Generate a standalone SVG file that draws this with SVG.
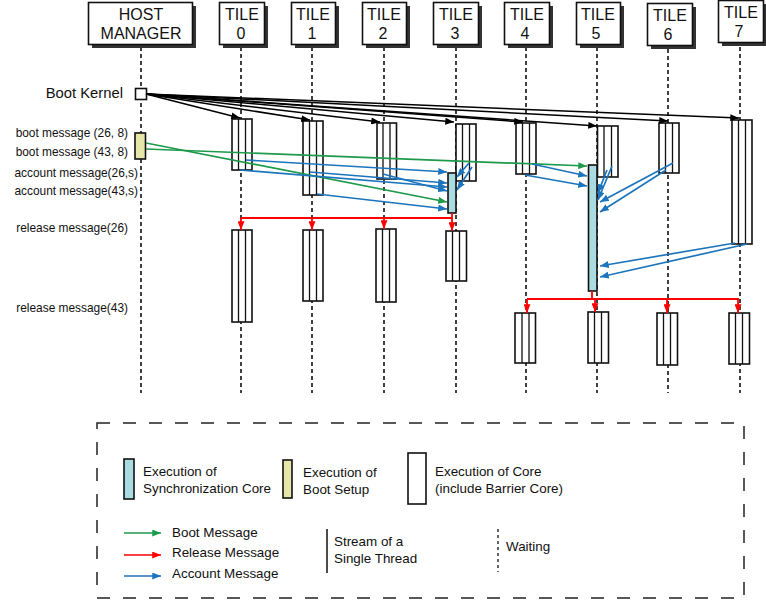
<svg xmlns="http://www.w3.org/2000/svg" width="766" height="600" viewBox="0 0 766 600">
<style>
text{font-family:"Liberation Sans",Arial,sans-serif;fill:#111}
.hd{font-size:16px;text-anchor:middle}
.lbl{font-size:11.9px;text-anchor:end}
.lg{font-size:13.4px}
.hb{fill:#fff;stroke:#111;stroke-width:1.6}
.sh{fill:#333}
.life{stroke:#111;stroke-width:1.6;stroke-dasharray:4 3;fill:none}
.core{fill:#fff;stroke:#111;stroke-width:1.6}
.in{stroke:#111;stroke-width:1.3}
.sync{fill:#a9dbe1;stroke:#111;stroke-width:1.6}
.boot{fill:#e6e6a8;stroke:#111;stroke-width:1.6}
.blk{stroke:#000;stroke-width:1.5;fill:none;marker-end:url(#mk)}
.grn{stroke:#1d9a4b;stroke-width:1.7;fill:none;marker-end:url(#mg)}
.blu{stroke:#1c75bc;stroke-width:1.7;fill:none;marker-end:url(#mb)}
.red{stroke:#f00;stroke-width:1.8;fill:none}
.reda{stroke:#f00;stroke-width:1.8;fill:none;marker-end:url(#mr)}
</style>
<defs>
<marker id="mk" viewBox="0 0 10 8" refX="10" refY="4" markerWidth="9" markerHeight="7" markerUnits="userSpaceOnUse" orient="auto"><path d="M0,0L10,4L0,8z" fill="#000"/></marker>
<marker id="mg" viewBox="0 0 10 8" refX="10" refY="4" markerWidth="9" markerHeight="7" markerUnits="userSpaceOnUse" orient="auto"><path d="M0,0L10,4L0,8z" fill="#1d9a4b"/></marker>
<marker id="mb" viewBox="0 0 10 8" refX="10" refY="4" markerWidth="9" markerHeight="7" markerUnits="userSpaceOnUse" orient="auto"><path d="M0,0L10,4L0,8z" fill="#1c75bc"/></marker>
<marker id="mr" viewBox="0 0 10 8" refX="10" refY="4" markerWidth="9" markerHeight="7" markerUnits="userSpaceOnUse" orient="auto"><path d="M0,0L10,4L0,8z" fill="#f00"/></marker>
</defs>
<rect width="766" height="600" fill="#fff"/>

<g id="lifelines">
<line class="life" x1="141" y1="47" x2="141" y2="393"/>
<line class="life" x1="241" y1="47" x2="241" y2="393"/>
<line class="life" x1="312" y1="47" x2="312" y2="393"/>
<line class="life" x1="384" y1="47" x2="384" y2="393"/>
<line class="life" x1="456" y1="47" x2="456" y2="393"/>
<line class="life" x1="526" y1="47" x2="526" y2="393"/>
<line class="life" x1="597" y1="47" x2="597" y2="393"/>
<line class="life" x1="668" y1="49" x2="668" y2="393"/>
<line class="life" x1="740" y1="47" x2="740" y2="393"/>
</g>

<g id="host-manager">
<rect class="sh" x="92" y="6" width="104" height="42"/>
<rect class="hb" x="88.5" y="2.5" width="104" height="42"/>
<text class="hd" x="141" y="20">HOST</text>
<text class="hd" x="141" y="38.5">MANAGER</text>
</g>
<g id="tile0">
<rect class="sh" x="223" y="6" width="45" height="42"/>
<rect class="hb" x="219.5" y="2.5" width="45" height="42"/>
<text class="hd" x="242" y="20">TILE</text><text class="hd" x="241" y="38.5">0</text>
</g>
<g id="tile1">
<rect class="sh" x="295" y="6" width="44" height="42"/>
<rect class="hb" x="291.5" y="2.5" width="44" height="42"/>
<text class="hd" x="313" y="20">TILE</text><text class="hd" x="312" y="38.5">1</text>
</g>
<g id="tile2">
<rect class="sh" x="366" y="6" width="44" height="42"/>
<rect class="hb" x="362.5" y="2.5" width="44" height="42"/>
<text class="hd" x="384" y="20">TILE</text><text class="hd" x="383" y="38.5">2</text>
</g>
<g id="tile3">
<rect class="sh" x="437" y="6" width="45" height="42"/>
<rect class="hb" x="433.5" y="2.5" width="45" height="42"/>
<text class="hd" x="456" y="20">TILE</text><text class="hd" x="455" y="38.5">3</text>
</g>
<g id="tile4">
<rect class="sh" x="508" y="6" width="45" height="42"/>
<rect class="hb" x="504.5" y="2.5" width="45" height="42"/>
<text class="hd" x="527" y="20">TILE</text><text class="hd" x="525" y="38.5">4</text>
</g>
<g id="tile5">
<rect class="sh" x="580" y="6" width="44" height="42"/>
<rect class="hb" x="576.5" y="2.5" width="44" height="42"/>
<text class="hd" x="598" y="20">TILE</text><text class="hd" x="596" y="38.5">5</text>
</g>
<g id="tile6">
<rect class="sh" x="651" y="7" width="45" height="42"/>
<rect class="hb" x="647.5" y="3.5" width="45" height="42"/>
<text class="hd" x="670" y="21">TILE</text><text class="hd" x="668" y="39.5">6</text>
</g>
<g id="tile7">
<rect class="sh" x="722" y="4" width="45" height="42"/>
<rect class="hb" x="718.5" y="0.5" width="45" height="42"/>
<text class="hd" x="741" y="18">TILE</text><text class="hd" x="739" y="36.5">7</text>
</g>

<g id="left-labels">
<text x="123" y="98" style="font-size:14.8px;text-anchor:end">Boot Kernel</text>
<text class="lbl" x="128" y="137">boot message (26, 8)</text>
<text class="lbl" x="128" y="156">boot message (43, 8)</text>
<text class="lbl" x="138" y="177">account message(26,s)</text>
<text class="lbl" x="138" y="195">account message(43,s)</text>
<text class="lbl" x="128" y="232">release message(26)</text>
<text class="lbl" x="128" y="312">release message(43)</text>
</g>

<g id="host-exec">
<rect class="core" x="135.5" y="88.5" width="11" height="11"/>
<rect class="boot" x="135" y="133" width="10.5" height="26"/>
</g>

<g id="exec-row1">
<g id="t0-exec1"><rect class="core" x="232" y="119" width="20" height="51"/><path class="in" d="M238.5,119V170M245.5,119V170"/></g>
<g id="t1-exec1"><rect class="core" x="303" y="121" width="20" height="74"/><path class="in" d="M309.5,121V195M316.5,121V195"/></g>
<g id="t2-exec1"><rect class="core" x="377" y="123" width="19.5" height="56"/><path class="in" d="M383,123V179M390,123V179"/></g>
<g id="t3-exec1"><rect class="core" x="456" y="124" width="20" height="57"/><path class="in" d="M462.5,124V181M469.5,124V181"/></g>
<g id="t4-exec1"><rect class="core" x="516" y="123" width="20" height="51"/><path class="in" d="M522.5,123V174M529.5,123V174"/></g>
<g id="t5-exec1"><rect class="core" x="597.5" y="126" width="20.5" height="51"/><path class="in" d="M604,126V177M611.5,126V177"/></g>
<g id="t6-exec1"><rect class="core" x="659" y="123" width="20" height="50"/><path class="in" d="M665.5,123V173M672.5,123V173"/></g>
<g id="t7-exec1"><rect class="core" x="732" y="120" width="20" height="124"/><path class="in" d="M738.5,120V244M745.5,120V244"/></g>
</g>

<g id="exec-row2">
<g id="t0-exec2"><rect class="core" x="232" y="230" width="20" height="92"/><path class="in" d="M238.5,230V322M245.5,230V322"/></g>
<g id="t1-exec2"><rect class="core" x="303" y="230" width="20" height="71"/><path class="in" d="M309.5,230V301M316.5,230V301"/></g>
<g id="t2-exec2"><rect class="core" x="376" y="229" width="20" height="73"/><path class="in" d="M382.5,229V302M389.5,229V302"/></g>
<g id="t3-exec2"><rect class="core" x="446" y="231" width="20.5" height="50"/><path class="in" d="M452.5,231V281M459.5,231V281"/></g>
</g>

<g id="exec-row3">
<g id="t4-exec3"><rect class="core" x="515" y="313" width="20.5" height="50"/><path class="in" d="M522,313V363M529,313V363"/></g>
<g id="t5-exec3"><rect class="core" x="588" y="312" width="20.5" height="51"/><path class="in" d="M594.5,312V363M601.5,312V363"/></g>
<g id="t6-exec3"><rect class="core" x="657" y="313" width="20.5" height="52"/><path class="in" d="M663.5,313V365M670.5,313V365"/></g>
<g id="t7-exec3"><rect class="core" x="729" y="313" width="20.5" height="51"/><path class="in" d="M735.5,313V364M742.5,313V364"/></g>
</g>

<g id="sync-cores">
<rect id="t3-sync" class="sync" x="448" y="173" width="8" height="40"/>
<rect id="t5-sync" class="sync" x="588.5" y="165" width="8.5" height="126"/>
</g>

<g id="connectors">
<g id="boot-kernel">
<line class="blk" x1="146" y1="94" x2="240" y2="118"/>
<line class="blk" x1="146" y1="94" x2="310" y2="120"/>
<line class="blk" x1="146" y1="94" x2="380" y2="122"/>
<line class="blk" x1="146" y1="94" x2="454" y2="122"/>
<line class="blk" x1="146" y1="94" x2="523" y2="122"/>
<line class="blk" x1="146" y1="94" x2="597" y2="126"/>
<line class="blk" x1="146" y1="94" x2="668" y2="121"/>
<line class="blk" x1="146" y1="94" x2="739" y2="118"/>
</g>
<g id="boot-msgs">
<line class="grn" x1="146" y1="143" x2="447" y2="202"/>
<line class="grn" x1="146" y1="149" x2="587" y2="166"/>
</g>
<g id="account-msgs">
<line class="blu" x1="246" y1="160" x2="447" y2="172"/>
<line class="blu" x1="240" y1="170" x2="447" y2="187"/>
<line class="blu" x1="310" y1="172" x2="447" y2="183"/>
<line class="blu" x1="317" y1="194" x2="447" y2="209"/>
<line class="blu" x1="383" y1="174" x2="447" y2="191"/>
<line class="blu" x1="469" y1="163" x2="457" y2="177"/>
<line class="blu" x1="472" y1="167" x2="457" y2="190"/>
<line class="blu" x1="532" y1="164" x2="587" y2="176"/>
<line class="blu" x1="525" y1="175" x2="587" y2="186"/>
<line class="blu" x1="612" y1="166" x2="598" y2="200"/>
<line class="blu" x1="607" y1="170" x2="598" y2="193"/>
<line class="blu" x1="673" y1="163" x2="600" y2="202"/>
<line class="blu" x1="666" y1="170" x2="600" y2="212"/>
<line class="blu" x1="735" y1="243" x2="600" y2="266"/>
<line class="blu" x1="747" y1="244" x2="600" y2="277"/>
</g>
<g id="release-26">
<path class="red" d="M452,213V218M241,218H452"/>
<line class="reda" x1="241" y1="218" x2="241" y2="230"/>
<line class="reda" x1="312" y1="218" x2="312" y2="230"/>
<line class="reda" x1="384" y1="218" x2="384" y2="229"/>
<line class="reda" x1="452" y1="218" x2="452" y2="231"/>
</g>
<g id="release-43">
<path class="red" d="M592,291V299M527,299H739"/>
<line class="reda" x1="527" y1="299" x2="527" y2="313"/>
<line class="reda" x1="595" y1="299" x2="595" y2="312"/>
<line class="reda" x1="667" y1="299" x2="667" y2="313"/>
<line class="reda" x1="738" y1="299" x2="738" y2="313"/>
</g>
</g>

<g id="legend">
<rect x="97" y="423" width="647" height="175" fill="none" stroke="#222" stroke-width="1.5" stroke-dasharray="13 13"/>
<rect class="sync" x="124" y="459" width="10" height="40"/>
<text class="lg" x="143" y="476">Execution of</text>
<text class="lg" x="143" y="493">Synchronization Core</text>
<rect class="boot" x="283" y="460" width="9" height="38"/>
<text class="lg" x="303" y="477">Execution of</text>
<text class="lg" x="303" y="494">Boot Setup</text>
<rect class="core" x="408" y="453" width="18" height="51"/>
<text class="lg" x="435" y="476">Execution of Core</text>
<text class="lg" x="435" y="493">(include Barrier Core)</text>
<line class="grn" x1="124" y1="533" x2="161" y2="533"/>
<text class="lg" x="172" y="537">Boot Message</text>
<line class="reda" x1="124" y1="555" x2="161" y2="555" style="stroke-width:1.6"/>
<text class="lg" x="172" y="557">Release Message</text>
<line class="blu" x1="124" y1="576" x2="161" y2="576"/>
<text class="lg" x="172" y="578">Account Message</text>
<line x1="327" y1="529" x2="327" y2="573" stroke="#111" stroke-width="1.5"/>
<text class="lg" x="334" y="546">Stream of a</text>
<text class="lg" x="334" y="563">Single Thread</text>
<line x1="498" y1="529" x2="498" y2="572" stroke="#111" stroke-width="1.3" stroke-dasharray="3 3"/>
<text class="lg" x="506" y="551">Waiting</text>
</g>
</svg>
